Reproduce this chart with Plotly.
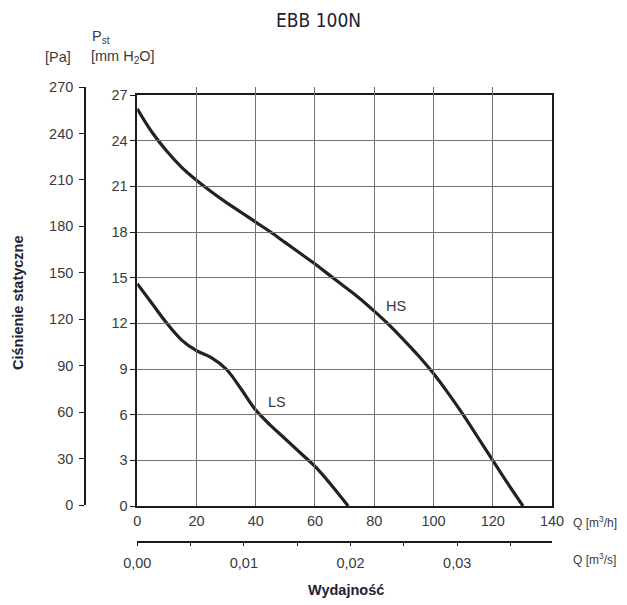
import plotly.graph_objects as go

# ---- data ----
title_text = "EBB 100N"
q_hs = [0, 5, 10, 15, 20, 25, 30, 35, 40, 45, 50, 55, 60, 65, 70, 75, 80, 85, 90, 95,
        100, 105, 110, 115, 120, 125, 130.2]
p_hs = [26.1, 24.55, 23.3, 22.25, 21.4, 20.65, 19.95, 19.3, 18.65, 18.0, 17.3, 16.6, 15.9, 15.15,
        14.4, 13.65, 12.8, 11.9, 10.9, 9.85, 8.7, 7.4, 6.0, 4.5, 3.0, 1.5, 0.0]
q_ls = [0, 5, 10, 15, 20, 25, 30, 35, 40, 45, 50, 55, 60, 65, 71.2]
p_ls = [14.6, 13.3, 12.0, 10.9, 10.2, 9.75, 9.0, 7.7, 6.3, 5.3, 4.4, 3.5, 2.6, 1.5, 0.0]
q_h_ticks = [0, 20, 40, 60, 80, 100, 120, 140]
mm_ticks = [0, 3, 6, 9, 12, 15, 18, 21, 24, 27]
pa_ticks = [0, 30, 60, 90, 120, 150, 180, 210, 240, 270]
qs_ticks = [0, 0.005, 0.01, 0.015, 0.02, 0.025, 0.03, 0.035]
qs_labels = ["0,00", "", "0,01", "", "0,02", "", "0,03", ""]

# ---- layout geometry (reference pixels; page body has an 8px margin) ----
OFF = 8
FW, FH = 627 - OFF, 605 - OFF
L, R, T, B = 60, 552.4, 80, 560          # in reference pixels
W, H = R - L, B - T

def px(x):
    return (x - L) / W

def py(y):
    return (B - y) / H

FONT = "Liberation Sans, Arial, sans-serif"
TXT = "#3a3a3a"
GRID = "#707070"
LINE = "#1a1a1a"
FS = 14.5

fig = go.Figure()
fig.add_trace(go.Scatter(x=q_hs, y=p_hs, mode="lines",
                         line=dict(color="#222222", width=3.2, shape="spline", smoothing=1.0),
                         showlegend=False, hoverinfo="skip"))
fig.add_trace(go.Scatter(x=q_ls, y=p_ls, mode="lines",
                         line=dict(color="#222222", width=3.2, shape="spline", smoothing=1.1),
                         showlegend=False, hoverinfo="skip"))
# helper traces to activate the extra axes
fig.add_trace(go.Scatter(x=[None], y=[None], xaxis="x", yaxis="y2", showlegend=False, hoverinfo="skip"))
fig.add_trace(go.Scatter(x=[None], y=[None], xaxis="x2", yaxis="y", showlegend=False, hoverinfo="skip"))

fig.update_layout(
    width=FW, height=FH,
    margin=dict(l=L - OFF, r=FW - (R - OFF), t=T - OFF, b=FH - (B - OFF), pad=0),
    paper_bgcolor="white", plot_bgcolor="rgba(0,0,0,0)",
    font=dict(family=FONT, size=FS, color=TXT),
    xaxis=dict(domain=[px(137.3), 1], range=[0, 140], tickvals=q_h_ticks, ticks="",
               showgrid=True, gridcolor=GRID, gridwidth=1,
               showline=True, linecolor=LINE, linewidth=1.6, mirror=True,
               zeroline=False, anchor="y", ticklabelstandoff=1),
    yaxis=dict(domain=[py(506), py(95)], range=[0, 27], tickvals=mm_ticks, ticks="outside",
               ticklen=5, tickwidth=1.2, tickcolor=LINE,
               showgrid=True, gridcolor=GRID, gridwidth=1,
               showline=True, linecolor=LINE, linewidth=1.6, mirror=True,
               zeroline=False, anchor="x", ticklabelstandoff=0),
    yaxis2=dict(domain=[py(505), py(87)], range=[0, 270], tickvals=pa_ticks, ticks="outside",
                ticklen=5, tickwidth=1.2, tickcolor=LINE,
                showgrid=False, showline=True, linecolor=LINE, linewidth=1.6,
                zeroline=False, anchor="free", position=px(85), side="left",
                ticklabelstandoff=3),
    xaxis2=dict(domain=[px(137.3), 1], range=[0, 140 / 3600], tickvals=qs_ticks, ticktext=qs_labels,
                ticks="outside", ticklen=4, tickwidth=1.2, tickcolor=LINE,
                showgrid=False, showline=True, linecolor=LINE, linewidth=1.6,
                zeroline=False, anchor="free", position=py(541.5), side="bottom",
                ticklabelstandoff=4),
)

ann = [
    dict(text=title_text, x=px(319), y=py(19.5),
         font=dict(family="DejaVu Sans Condensed, DejaVu Sans", size=19, color="#222233")),
    dict(text="[Pa]", x=px(58), y=py(57), font=dict(size=FS, color=TXT)),
    dict(text="P<sub>st</sub>", x=px(101), y=py(37), font=dict(size=FS, color=TXT)),
    dict(text="[mm H<sub>2</sub>O]", x=px(123), y=py(57), font=dict(size=FS, color=TXT)),
    dict(text="<b>Ciśnienie statyczne</b>", x=px(18), y=py(303), textangle=-90,
         font=dict(size=FS, color="#222233")),
    dict(text="<b>Wydajność</b>", x=px(346), y=py(590), font=dict(size=FS, color="#222233")),
    dict(text="Q [m<sup>3</sup>/h]", x=px(571), y=py(521.5), xanchor="left", font=dict(size=12, color=TXT)),
    dict(text="Q [m<sup>3</sup>/s]", x=px(571), y=py(559), xanchor="left", font=dict(size=12, color=TXT)),
    dict(text="HS", x=px(396.5), y=py(306), font=dict(size=FS, color=TXT)),
    dict(text="LS", x=px(277), y=py(402), font=dict(size=FS, color=TXT)),
]
for a in ann:
    a.setdefault("xanchor", "center")
    fig.add_annotation(xref="paper", yref="paper", showarrow=False, yanchor="middle", **a)

fig.write_html("out.html")
